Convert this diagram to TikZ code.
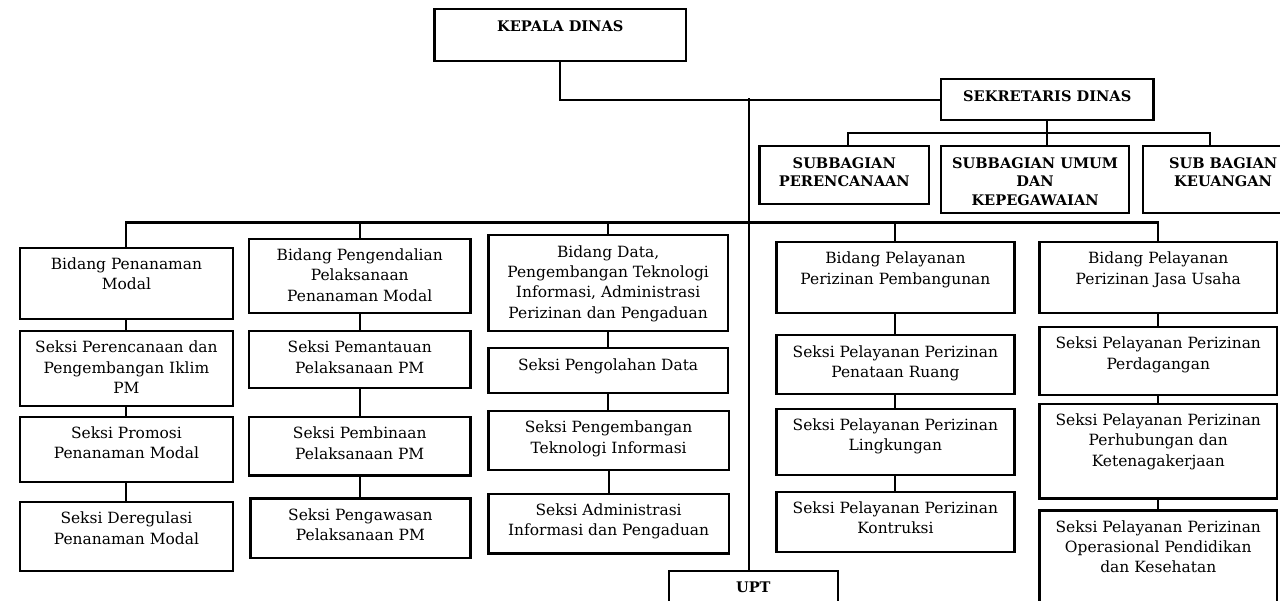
\documentclass[tikz,border=0pt]{standalone}
\usepackage{fontspec}
\setmainfont{DejaVu Serif}
\usepackage{tikz}

\newdimen\px \px=0.02cm

\tikzset{
  unit/.style 2 args={draw, line width=1.25pt, anchor=north west, inner sep=0pt,
    font=\fontsize{8.8}{11.6}\selectfont,
    execute at begin node={\begin{minipage}[c][#2\px][t]{#1\px}\centering\rule{0pt}{12.3pt}},
    execute at end node={\end{minipage}}},
  head/.style 2 args={unit={#1}{#2}, font=\fontsize{8.3}{10.6}\selectfont\bfseries},
  link/.style={line width=1.15pt},
}

\begin{document}
\begin{tikzpicture}[x=\px, y=-\px]
    \useasboundingbox (0,0) rectangle (1280,601);
    \clip (0,0) rectangle (1280,601);

    % Define nodes: top level
    \node[head={251.7}{51.7}] (kadis) at (433.3,8.3) {KEPALA DINAS};
    \node[head={212.3}{40.7}] (sekdis) at (940,78.3) {SEKRETARIS DINAS};
    \node[head={169.6}{57.4}] (sbper) at (758.4,145.3) {SUBBAGIAN\\PERENCANAAN};
    \node[head={188}{66.4}] (sbumum) at (940,145.3) {SUBBAGIAN UMUM\\DAN\\KEPEGAWAIAN};
    \node[head={160}{66.4}] (sbkeu) at (1142,145.3) {SUB BAGIAN\\KEUANGAN};
    \node[head={169}{60}] (upt) at (667.7,570) {UPT};

    % Bidang Penanaman Modal
    \node[unit={212.7}{71.6}] (bpm) at (19,246.7) {Bidang Penanaman\\Modal};
    \node[unit={212.7}{74.7}] (s11) at (19,330) {Seksi Perencanaan dan\\Pengembangan Iklim\\PM};
    \node[unit={212.7}{65}] (s12) at (19,415.7) {Seksi Promosi\\Penanaman Modal};
    \node[unit={212.7}{69}] (s13) at (19,501) {Seksi Deregulasi\\Penanaman Modal};

    % Bidang Pengendalian
    \node[unit={221.3}{74.6}] (bpp) at (248,237.7) {Bidang Pengendalian\\Pelaksanaan\\Penanaman Modal};
    \node[unit={221.3}{57.3}] (s21) at (248,330) {Seksi Pemantauan\\Pelaksanaan PM};
    \node[unit={221.3}{58.3}] (s22) at (248,416) {Seksi Pembinaan\\Pelaksanaan PM};
    \node[unit={220}{59.4}] (s23) at (249.3,497.3) {Seksi Pengawasan\\Pelaksanaan PM};

    % Bidang Data
    \node[unit={239.4}{95.7}] (bdata) at (487.3,234.3) {Bidang Data,\\Pengembangan Teknologi\\Informasi, Administrasi\\Perizinan dan Pengaduan};
    \node[unit={239.4}{45}] (s31) at (487.3,347.3) {Seksi Pengolahan Data};
    \node[unit={240.4}{59}] (s32) at (487.3,410) {Seksi Pengembangan\\Teknologi Informasi};
    \node[unit={240.4}{59.6}] (s33) at (487.3,492.7) {Seksi Administrasi\\Informasi dan Pengaduan};

    % Bidang Pelayanan Perizinan Pembangunan
    \node[unit={238}{71.3}] (bpb) at (775.3,241) {Bidang Pelayanan\\Perizinan Pembangunan};
    \node[unit={238}{59}] (s41) at (775.3,334.3) {Seksi Pelayanan Perizinan\\Penataan Ruang};
    \node[unit={238}{66.3}] (s42) at (775.3,407.7) {Seksi Pelayanan Perizinan\\Lingkungan};
    \node[unit={238}{60}] (s43) at (775.3,490.7) {Seksi Pelayanan Perizinan\\Kontruksi};

    % Bidang Pelayanan Perizinan Jasa Usaha
    \node[unit={237.7}{71.3}] (bpj) at (1038.3,241) {Bidang Pelayanan\\Perizinan Jasa Usaha};
    \node[unit={237.7}{68}] (s51) at (1038.3,326) {Seksi Pelayanan Perizinan\\Perdagangan};
    \node[unit={237.7}{94.6}] (s52) at (1038.3,402.7) {Seksi Pelayanan Perizinan\\Perhubungan dan\\Ketenagakerjaan};
    \node[unit={237.7}{110}] (s53) at (1038.3,509.3) {Seksi Pelayanan Perizinan\\Operasional Pendidikan\\dan Kesehatan};

    % Helper coordinates
    \coordinate (hub) at (749.4,98.5);
    \coordinate (bar) at (0,222.5);
    \coordinate (sbar) at (0,133);

    % Draw lines
    \draw[link] (kadis.south) |- (sekdis.west);
    \draw[link] (hub) -- (hub |- upt.north);
    \draw[link] (sekdis.south) -- (sekdis.south |- sbumum.north);
    \draw[link] ([xshift=4\px]sbper.north) |- ([xshift=-13\px]sbkeu.north |- sbar) -- ([xshift=-13\px]sbkeu.north);
    \draw[link] (bpm.north) |- (bar -| bpj.north) -- (bpj.north);
    \foreach \bd in {bpp,bdata,bpb}
        \draw[link] (\bd.north) -- (\bd.north |- bar);
    \foreach \up/\dn in {bpm/s11,s11/s12,s12/s13,bpp/s21,s21/s22,s22/s23,
                         bdata/s31,s31/s32,s32/s33,bpb/s41,s41/s42,s42/s43,
                         bpj/s51,s51/s52,s52/s53}
        \draw[link] (\up.south) -- (\up.south |- \dn.north);
\end{tikzpicture}
\end{document}
